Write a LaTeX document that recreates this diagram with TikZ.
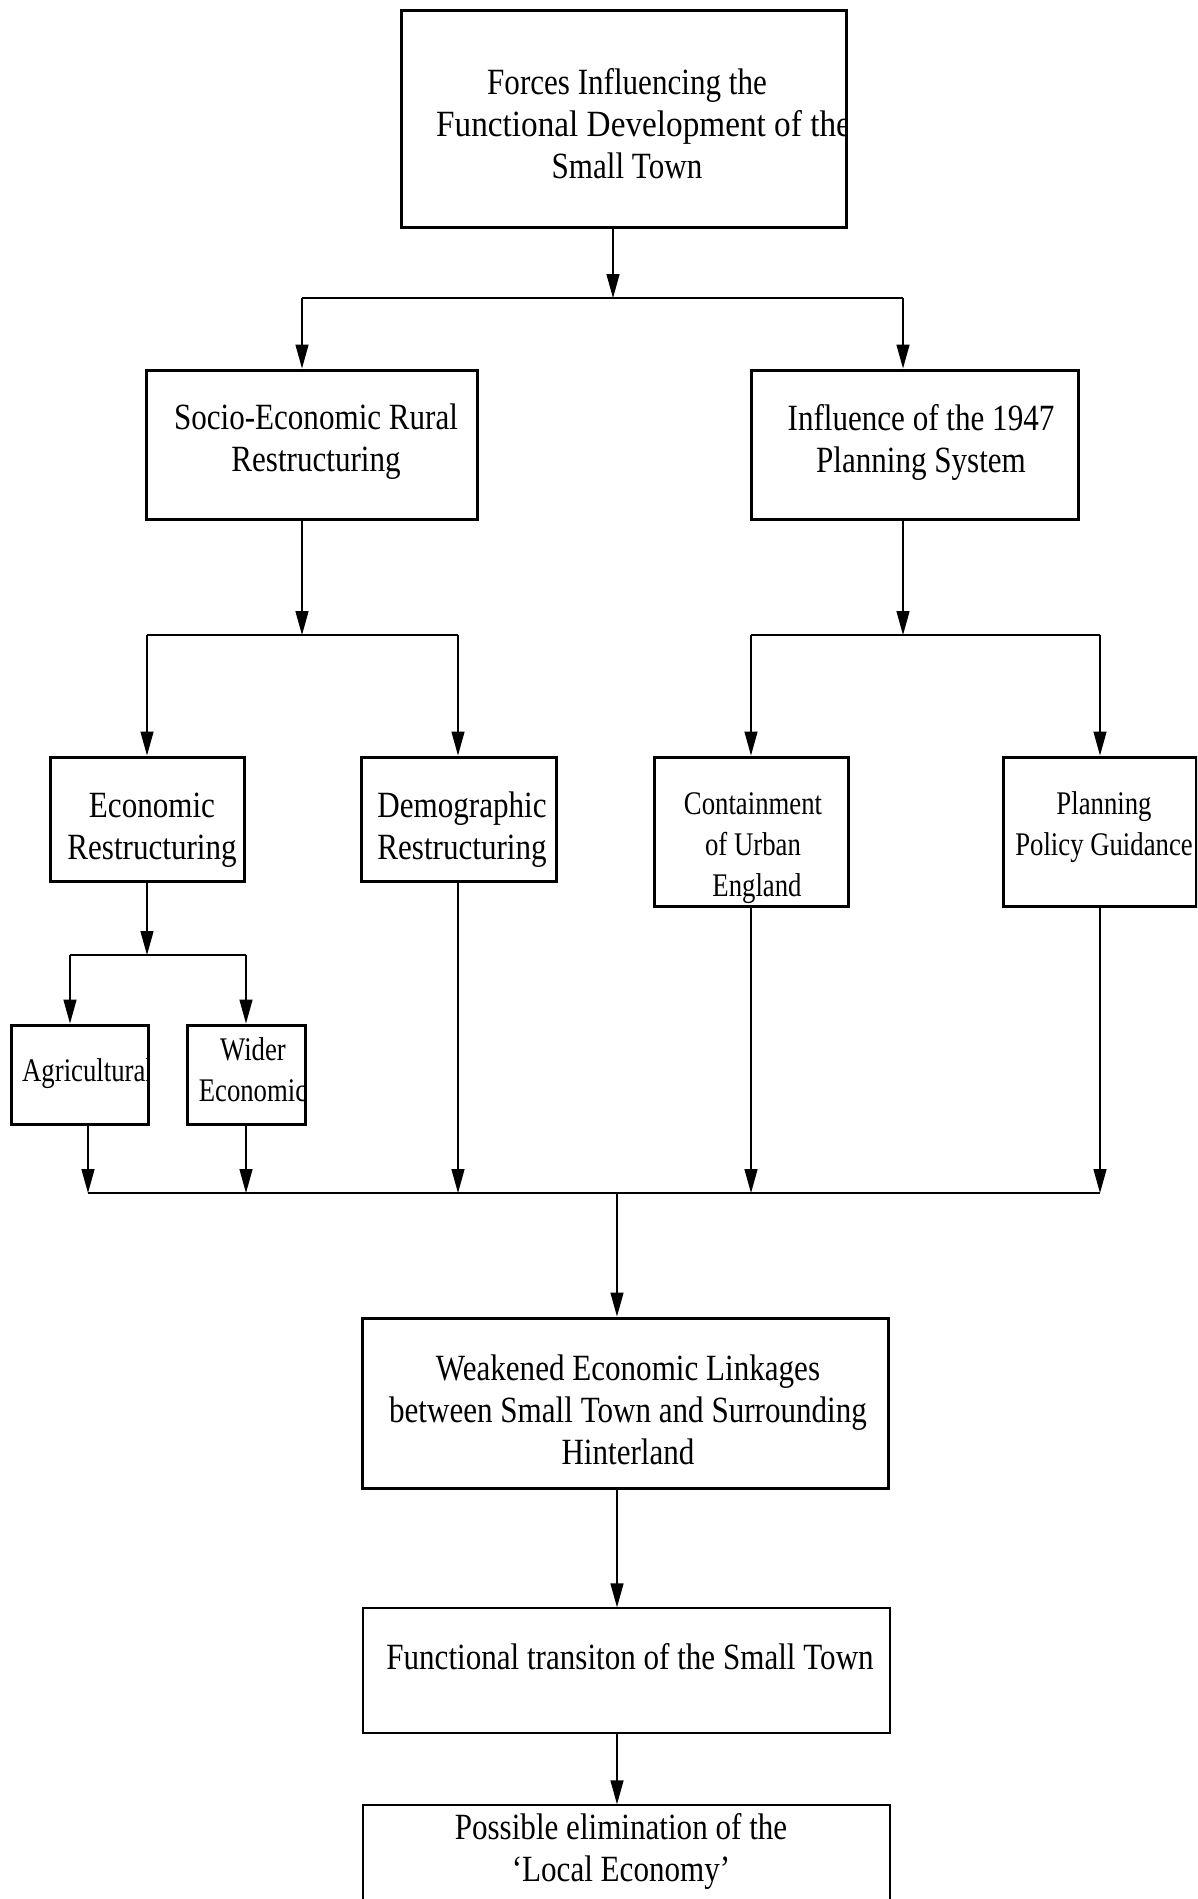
\documentclass[tikz,border=0pt]{standalone}
\usepackage{fontspec}
\setmainfont{Liberation Serif}[FakeStretch=0.84]
\newfontfamily\narrowfont{Liberation Serif}[FakeStretch=0.81]
\usetikzlibrary{arrows.meta}

\tikzset{
  box/.style={draw, line width=3bp, rectangle, inner sep=0pt},
  thinbox/.style={draw, line width=1.4bp, rectangle, inner sep=0pt},
  txt/.style={inner sep=0pt, align=center, font=\fontsize{37bp}{42bp}\selectfont},
  smalltxt/.style={inner sep=0pt, align=center, font=\narrowfont\fontsize{33bp}{41bp}\selectfont},
  link/.style={line width=1.4bp},
  arr/.style={link, -{Triangle[length=24bp,width=13bp]}},
}

\begin{document}
\begin{tikzpicture}[x=1bp, y=-1bp]
\clip (0,0) rectangle (1197,1899);
\fill[white] (0,0) rectangle (1197,1899);

% ---- boxes ----
\node[box, minimum width=445bp, minimum height=217bp] (top)   at (623.5,118.5) {};
\node[box, minimum width=330bp, minimum height=149bp] (socio) at (312,444.5) {};
\node[box, minimum width=327bp, minimum height=149bp] (infl)  at (914.5,444.5) {};
\node[box, minimum width=193bp, minimum height=124bp] (econ)  at (147.5,819) {};
\node[box, minimum width=195bp, minimum height=124bp] (demo)  at (458.5,819) {};
\node[box, minimum width=194bp, minimum height=149bp] (cont)  at (751,831.5) {};
\node[box, minimum width=193bp, minimum height=149bp] (plan)  at (1099.5,831.5) {};
\node[box, minimum width=136bp, minimum height=99bp]  (agri)  at (80,1074.5) {};
\node[box, minimum width=118bp, minimum height=99bp]  (wider) at (246,1074.5) {};
\node[box, minimum width=526bp, minimum height=170bp] (weak)  at (625,1403) {};
\node[thinbox, minimum width=527bp, minimum height=125bp] (func) at (626.5,1670.5) {};
\node[thinbox, minimum width=527bp, minimum height=155bp] (poss) at (626.5,1882.5) {};

% ---- texts ----
\begin{scope}
  \clip (top.north west) rectangle (top.south east);
  \node[txt] (ttop) at (627,124) {Forces Influencing the\\\hspace*{33bp}\scalebox{1.07}[1]{Functional Development of the}\\Small Town};
\end{scope}
\node[txt] (tsocio) at (316,442) {Socio-Economic Rural\\Restructuring};
\node[txt] (tinfl)  at (921,442) {Influence of the 1947\\Planning System};
\node[txt] (tecon)  at (152,830) {Economic\\Restructuring};
\node[txt] (tdemo)  at (462,830) {Demographic\\Restructuring};
\node[smalltxt] (tcont) at (753,848) {Containment\\of Urban\\\hspace*{8bp}England};
\begin{scope}
  \clip (plan.north west) rectangle (plan.south east);
  \node[smalltxt] (tplan) at (1104,827) {Planning\\Policy Guidance};
\end{scope}
\begin{scope}
  \clip (agri.north west) rectangle (agri.south east);
  \node[smalltxt, anchor=west] (tagri) at (22,1074) {Agricultural};
\end{scope}
\begin{scope}
  \clip (wider.north west) rectangle (wider.south east);
  \node[smalltxt] (twider) at (253,1070) {Wider\\Economic};
\end{scope}
\node[txt] (tweak) at (628,1410) {Weakened Economic Linkages\\between Small Town and Surrounding\\Hinterland};
\node[txt] (tfunc) at (630,1657) {Functional transiton of the Small Town};
\node[txt] (tposs) at (621,1851) {Possible elimination of the\\`Local Economy'};

% ---- junction points ----
\coordinate (j1)  at (613,298);
\coordinate (b1l) at (302,298);
\coordinate (b1r) at (903,298);
\coordinate (j2l) at (302,635);
\coordinate (b2a) at (147,635);
\coordinate (b2b) at (458,635);
\coordinate (j2r) at (903,635);
\coordinate (b2c) at (751,635);
\coordinate (b2d) at (1100,635);
\coordinate (j3)  at (147,955);
\coordinate (b3a) at (70,955);
\coordinate (b3b) at (246,955);
\coordinate (m1) at (88,1193);
\coordinate (m2) at (246,1193);
\coordinate (m3) at (458,1193);
\coordinate (m4) at (751,1193);
\coordinate (m5) at (1100,1193);
\coordinate (mo) at (617,1193);

% ---- connectors ----
\draw[arr] (top.south -| j1) -- (j1);
\draw[link] (b1l) -- (b1r);
\draw[arr] (b1l) -- (socio.north -| b1l);
\draw[arr] (b1r) -- (infl.north -| b1r);

\draw[arr] (socio.south -| j2l) -- (j2l);
\draw[link] (b2a) -- (b2b);
\draw[arr] (b2a) -- (econ.north -| b2a);
\draw[arr] (b2b) -- (demo.north -| b2b);

\draw[arr] (infl.south -| j2r) -- (j2r);
\draw[link] (b2c) -- (b2d);
\draw[arr] (b2c) -- (cont.north -| b2c);
\draw[arr] (b2d) -- (plan.north -| b2d);

\draw[arr] (econ.south -| j3) -- (j3);
\draw[link] (b3a) -- (b3b);
\draw[arr] (b3a) -- (agri.north -| b3a);
\draw[arr] (b3b) -- (wider.north -| b3b);

\draw[arr] (agri.south -| m1) -- (m1);
\draw[arr] (wider.south -| m2) -- (m2);
\draw[arr] (demo.south -| m3) -- (m3);
\draw[arr] (cont.south -| m4) -- (m4);
\draw[arr] (plan.south -| m5) -- (m5);
\draw[link] (m1) -- (m5);

\draw[arr] (mo) -- (weak.north -| mo);
\draw[arr] (weak.south -| mo) -- (func.north -| mo);
\draw[arr] (func.south -| mo) -- (poss.north -| mo);
\end{tikzpicture}
\end{document}
